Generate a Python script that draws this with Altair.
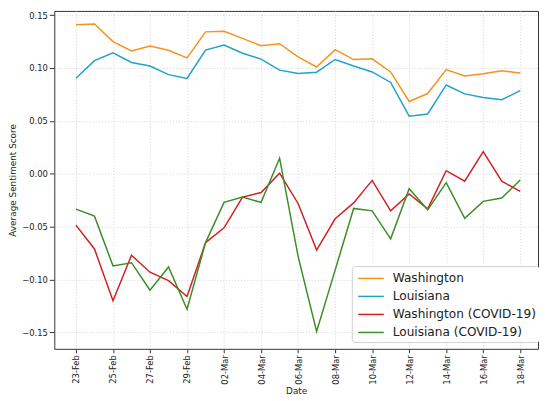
import altair as alt
import pandas as pd

dates = ["23-Feb", "24-Feb", "25-Feb", "26-Feb", "27-Feb", "28-Feb", "29-Feb",
         "01-Mar", "02-Mar", "03-Mar", "04-Mar", "05-Mar", "06-Mar", "07-Mar",
         "08-Mar", "09-Mar", "10-Mar", "11-Mar", "12-Mar", "13-Mar", "14-Mar",
         "15-Mar", "16-Mar", "17-Mar", "18-Mar"]

washington = [0.141, 0.1416, 0.125, 0.1161, 0.1208, 0.1168, 0.1096, 0.1342, 0.1348,
              0.128, 0.1211, 0.123, 0.1105, 0.101, 0.1174, 0.108, 0.1087, 0.0963,
              0.0684, 0.0759, 0.0985, 0.0926, 0.0947, 0.0975, 0.0954]
louisiana = [0.0904, 0.107, 0.1143, 0.1053, 0.1019, 0.0938, 0.0901, 0.117, 0.1217,
             0.114, 0.1084, 0.098, 0.0948, 0.0961, 0.1081, 0.1019, 0.0963, 0.0864,
             0.0545, 0.0566, 0.084, 0.0756, 0.0721, 0.070, 0.0786]
washington_covid = [-0.0485, -0.071, -0.120, -0.077, -0.093, -0.101, -0.116, -0.065,
                    -0.051, -0.022, -0.0176, 0.0006, -0.028, -0.072, -0.0425, -0.0275,
                    -0.0062, -0.035, -0.019, -0.033, 0.003, -0.007, 0.021, -0.007, -0.0165]
louisiana_covid = [-0.0333, -0.040, -0.087, -0.084, -0.110, -0.088, -0.128, -0.065,
                   -0.027, -0.022, -0.027, 0.0148, -0.078, -0.149, -0.091, -0.0327,
                   -0.035, -0.0614, -0.014, -0.034, -0.0083, -0.042, -0.026, -0.0228, -0.0059]

series_names = ["Washington", "Louisiana", "Washington (COVID-19)", "Louisiana (COVID-19)"]
series_values = [washington, louisiana, washington_covid, louisiana_covid]
series_colors = ["#f5931e", "#1fa3c9", "#d21f1f", "#3c8c28"]
y_ticks = [-0.15, -0.10, -0.05, 0.0, 0.05, 0.10, 0.15]
x_ticks = list(range(0, len(dates), 2))

rows = []
for name, vals in zip(series_names, series_values):
    for i, v in enumerate(vals):
        rows.append({"idx": i, "date": dates[i], "series": name, "value": v})
df = pd.DataFrame(rows)

label_array = "[" + ",".join("'" + d + "'" for d in dates) + "]"

font = "DejaVu Sans"

chart = alt.Chart(df).mark_line(strokeWidth=1.5, clip=True).encode(
    x=alt.X("idx:Q",
            scale=alt.Scale(domain=[-1.17, 24.96], nice=False, zero=False),
            axis=alt.Axis(values=x_ticks, labelExpr=label_array + "[datum.value]",
                          labelAngle=270, title="Date", grid=True,
                          gridDash=[1, 2], gridColor="#c8c8c8", gridWidth=0.8,
                          labelFontSize=8.5, titleFontSize=9, labelPadding=2,
                          tickSize=4, tickColor="#333", domain=False,
                          labelColor="#222", titleColor="#222", titlePadding=2,
                          labelFont=font, titleFont=font, titleFontWeight="normal")),
    y=alt.Y("value:Q",
            scale=alt.Scale(domain=[-0.1654, 0.154], nice=False, zero=False),
            axis=alt.Axis(values=y_ticks,
                          labelExpr="replace(format(datum.value, '.2f'), '-', '\u2212')",
                          title="Average Sentiment Score", grid=True,
                          gridDash=[1, 2], gridColor="#c8c8c8", gridWidth=0.8,
                          labelFontSize=8.5, titleFontSize=9, labelPadding=2,
                          tickSize=5, tickColor="#333", domain=False,
                          labelColor="#222", titleColor="#222", titlePadding=4,
                          labelFont=font, titleFont=font, titleFontWeight="normal")),
    color=alt.Color("series:N",
                    scale=alt.Scale(domain=series_names, range=series_colors),
                    legend=alt.Legend(title=None, orient="none", legendX=302, legendY=259,
                                      labelFontSize=12.3, labelFont=font, labelColor="#222",
                                      symbolType="M-1.5,0H1.5", symbolSize=300,
                                      symbolStrokeWidth=1.5, symbolOffset=7,
                                      labelOffset=12.5,
                                      strokeColor="#d0d0d0", fillColor="white",
                                      padding=3, cornerRadius=3, rowPadding=2.3,
                                      labelLimit=400)),
).properties(
    width=491, height=343,
    autosize=alt.AutoSizeParams(type="none"),
    padding={"left": 47, "top": 0, "right": 1, "bottom": 50},
).configure_view(
    stroke="#333", strokeWidth=1
)

chart.save("out.html", embed_options={"renderer": "svg", "actions": False})
